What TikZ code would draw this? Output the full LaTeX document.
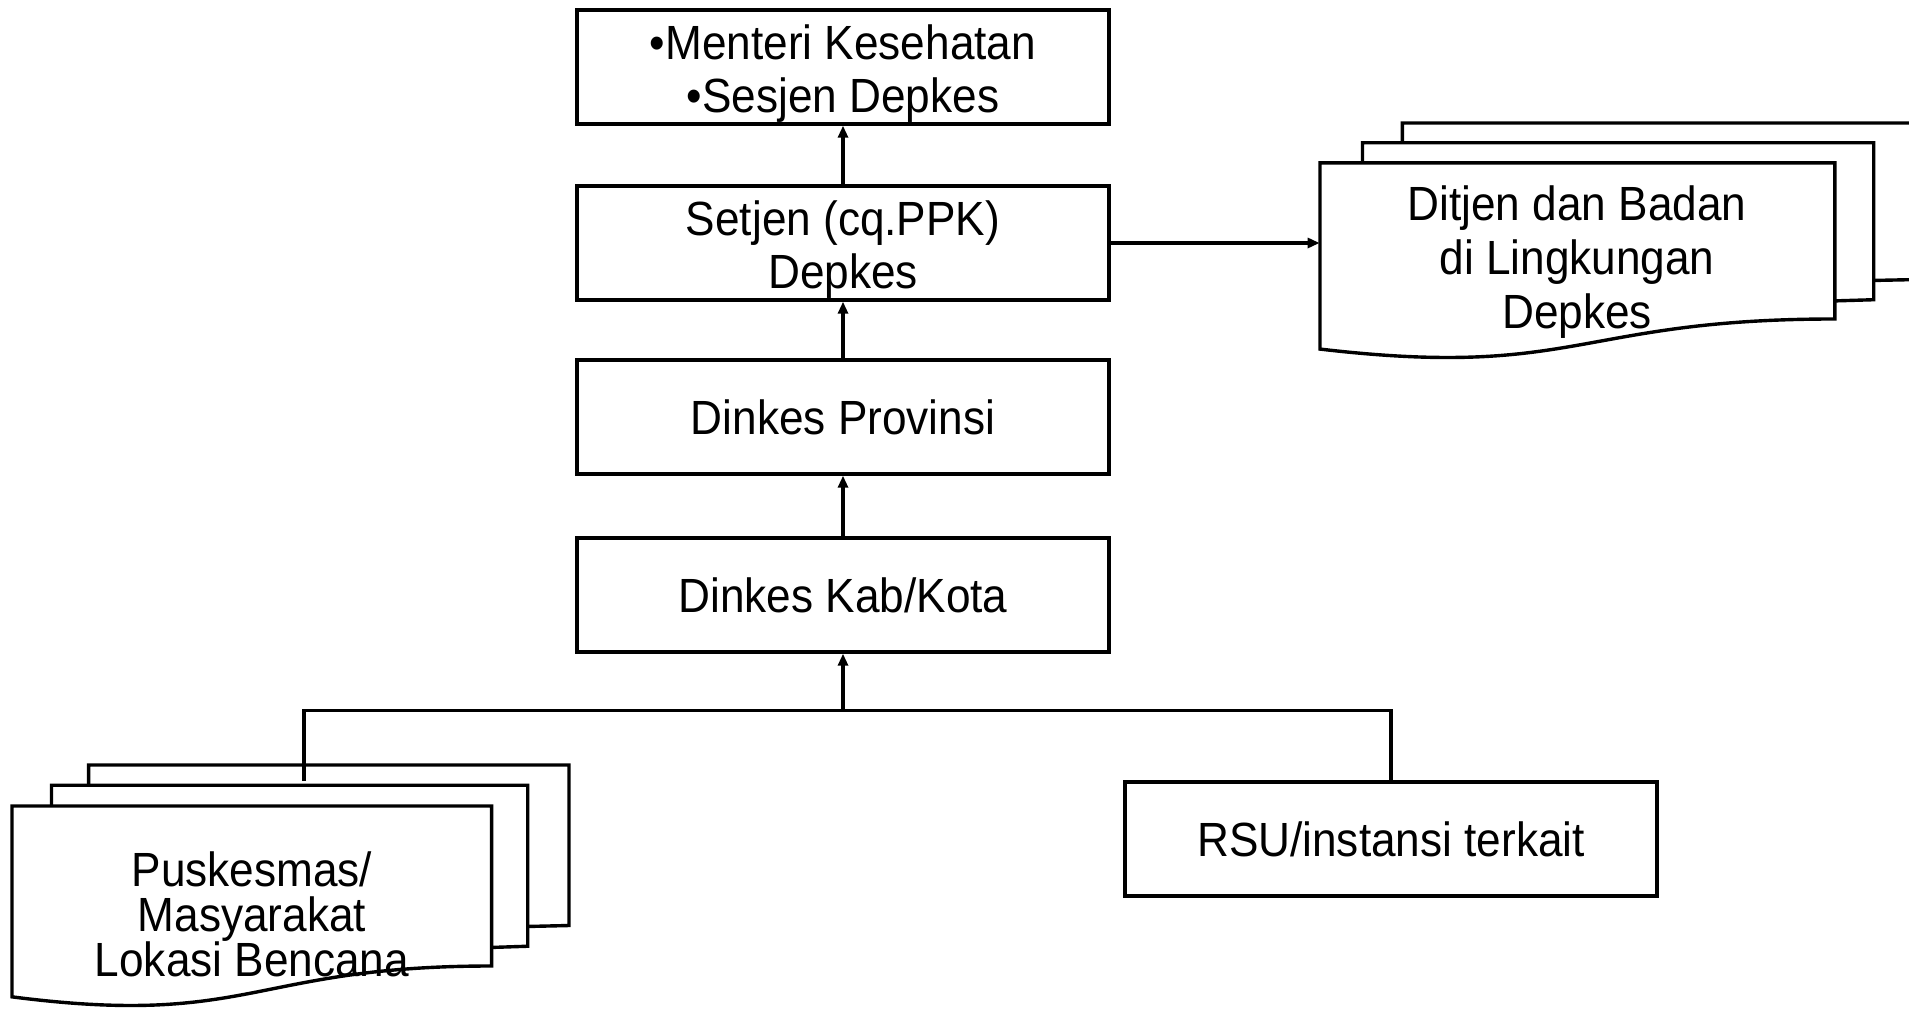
\documentclass[tikz,border=0pt]{standalone}
\usepackage{fontspec}
\setmainfont{Liberation Sans}[FakeStretch=0.92]
\usepackage{tikz}
\usetikzlibrary{arrows.meta, positioning}
\tikzset{
  orgbox/.style={draw, line width=1.7pt, fill=white, minimum width=266pt,
                 minimum height=57pt, align=center, inner sep=0pt,
                 font=\fontsize{24}{26.8}\selectfont},
  docsheet/.style={draw, line width=1.7pt, fill=white, line join=miter},
  doctext/.style={align=center, inner sep=0pt, font=\fontsize{24}{26.8}\selectfont},
  arr/.style={-{Triangle[length=6pt,width=5pt]}, line width=1.6pt},
  link/.style={line width=1.6pt},
}
\newcommand{\topline}{\rule{0pt}{24pt}}
% stacked documents: #1,#2 top-left corner, #3 width, #4 height
\newcommand{\multidoc}[4]{%
  \begin{scope}[shift={(#1,#2)}, xscale=#3, yscale=#4]
    \filldraw[docsheet] (0.1376,0) -- (1,0) -- (1,0.666) -- (0.926,0.670)
      -- (0.1376,0.672) -- cycle;
    \filldraw[docsheet] (0.071,0.084) -- (0.926,0.084) -- (0.926,0.752)
      -- (0.861,0.757) -- (0.071,0.757) -- cycle;
    \filldraw[docsheet] (0,0.170) -- (0.861,0.170) -- (0.861,0.834)
      .. controls (0.430,0.834) and (0.430,1.090) .. (0,0.962) -- cycle;
  \end{scope}}

\begin{document}
\begin{tikzpicture}[x=0.5pt, y=-0.5pt]
  \useasboundingbox (0,0) rectangle (1909,1011);

  %% chain of offices
  \node[orgbox] (menteri) at (843,67) {\topline•Menteri Kesehatan\\•Sesjen Depkes};
  \node[orgbox, below=29.3pt of menteri] (setjen) {\topline Setjen (cq.PPK)\\Depkes};
  \node[orgbox, below=28.3pt of setjen] (provinsi) {Dinkes Provinsi};
  \node[orgbox, below=30.3pt of provinsi] (kabkota) {Dinkes Kab/Kota};

  %% document stacks
  \multidoc{1320}{123}{598}{235}
  \node[doctext, minimum width=257pt] (ditjen) at (1577,262)
    {Ditjen dan Badan\\di Lingkungan\\Depkes};

  \multidoc{12}{765}{557}{241}
  \node[doctext, font=\fontsize{24}{22.5}\selectfont] (puskesmas) at (252,914)
    {Puskesmas/\\Masyarakat\\Lokasi Bencana};
  \coordinate (pusktop) at (304,781);

  \node[orgbox] (rsu) at (1391,839) {RSU/instansi terkait};

  %% arrows up
  \draw[arr] (setjen.north) -- (menteri.south);
  \draw[arr] (provinsi.north) -- (setjen.south);
  \draw[arr] (kabkota.north) -- (provinsi.south);
  \draw[arr] (setjen.east) -- (setjen.east -| ditjen.west);

  %% bus from below
  \coordinate[below=28.5pt of kabkota.south] (bus);
  \draw[link] (pusktop) -- (pusktop |- bus) -| (rsu.north);
  \draw[arr] (bus) -- (kabkota.south);

\end{tikzpicture}
\end{document}
